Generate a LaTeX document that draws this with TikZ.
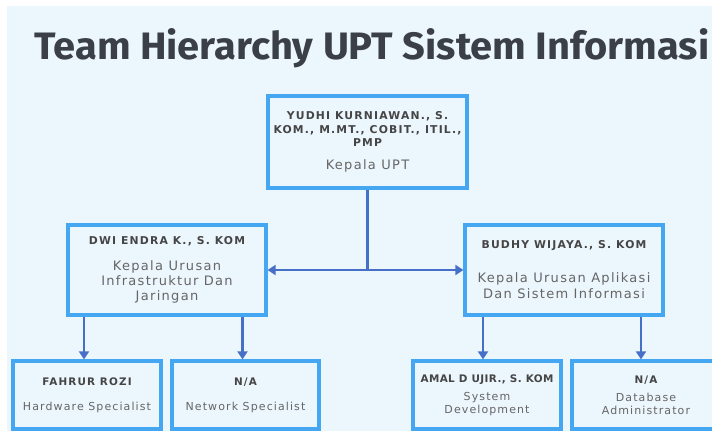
\documentclass[tikz,border=0pt]{standalone}
\usepackage{fontspec}
\usepackage{graphicx}
\usetikzlibrary{arrows.meta}
\newfontfamily\titlefont{Fira Sans}
\newfontfamily\namefont{DejaVu Sans}[LetterSpace=11]
\newfontfamily\namefontN{DejaVu Sans}[LetterSpace=4]
\newfontfamily\subfont{DejaVu Sans}[LetterSpace=10]
\definecolor{bg}{HTML}{ECF6FD}
\definecolor{boxline}{HTML}{45A6F2}
\definecolor{arrowc}{HTML}{4670C8}
\definecolor{titlec}{HTML}{3B3F48}
\definecolor{namec}{HTML}{454545}
\definecolor{subc}{HTML}{666666}
\newcommand\nmA{\namefont\bfseries\fontsize{10.8}{13}\selectfont\color{namec}}
\newcommand\nmB{\namefont\bfseries\fontsize{10.4}{13}\selectfont\color{namec}}
\newcommand\nmN{\namefontN\bfseries\fontsize{10.4}{13}\selectfont\color{namec}}
\newcommand\sbA{\subfont\fontsize{13}{15}\selectfont\color{subc}}
\newcommand\sbB{\subfont\fontsize{11}{13}\selectfont\color{subc}}
\begin{document}
\begin{tikzpicture}[x=1pt,y=-1pt,
  card/.style={draw=boxline, line width=3.2pt, fill=bg, align=center, inner sep=0pt},
  conn/.style={draw=arrowc, line width=2.8pt},
  arr/.style={conn, -{Triangle[length=8pt,width=10pt]}},
  biarr/.style={conn, {Triangle[length=8pt,width=10pt]}-{Triangle[length=8pt,width=10pt]}}]
\useasboundingbox (0,0) rectangle (712,431);
\fill[white] (0,0) rectangle (712,431);
\fill[bg] (7,6) rectangle (712,431);
\node[anchor=base west, text=titlec, inner sep=0pt] (title) at (34,59)
  {\resizebox{675pt}{31pt}{\titlefont\bfseries Team Hierarchy UPT Sistem Informasi}};
% boxes
\node[card, minimum width=199pt, minimum height=92pt, font=\fontsize{11}{13.5}\selectfont] (T) at (367.5,142)
  {\nmA YUDHI KURNIAWAN., S.\\ \nmA KOM., M.MT., COBIT., ITIL.,\\ \nmA PMP\\[9pt] \sbA Kepala UPT};
\node[card, minimum width=198pt, minimum height=90pt, font=\fontsize{11}{15}\selectfont] (L) at (167,270)
  {\nmA DWI ENDRA K., S. KOM\\[11pt] \sbA Kepala Urusan\\ \sbA Infrastruktur Dan\\ \sbA Jaringan};
\node[card, minimum width=198pt, minimum height=90pt, font=\fontsize{11}{16}\selectfont] (R) at (564,270)
  {\nmA BUDHY WIJAYA., S. KOM\\[18pt] \sbA Kepala Urusan Aplikasi\\ \sbA Dan Sistem Informasi};
\node[card, minimum width=148pt, minimum height=68pt, font=\fontsize{11}{13}\selectfont] (B1) at (87,395)
  {\nmB FAHRUR ROZI\\[12pt] \sbB Hardware Specialist};
\node[card, minimum width=147pt, minimum height=68pt, font=\fontsize{11}{13}\selectfont] (B2) at (245.5,395)
  {\nmB N/A\\[12pt] \sbB Network Specialist};
\node[card, minimum width=148pt, minimum height=68pt, font=\fontsize{11}{13}\selectfont] (B3) at (487,395)
  {\nmN AMAL D UJIR., S. KOM\\[5pt] \sbB System\\ \sbB Development};
\node[card, minimum width=148pt, minimum height=68pt, font=\fontsize{11}{13}\selectfont] (B4) at (646,395)
  {\nmB N/A\\[5pt] \sbB Database\\ \sbB Administrator};
% connectors
\coordinate (J) at (T.south |- L.east);
\draw[conn] (T.south) -- (J);
\draw[biarr] (L.east) -- (R.west);
\draw[arr] ([xshift=-3pt]L.south -| B1.north) -- ([xshift=-3pt]B1.north);
\draw[arr] ([xshift=-3pt]L.south -| B2.north) -- ([xshift=-3pt]B2.north);
\draw[arr] ([xshift=-4pt]R.south -| B3.north) -- ([xshift=-4pt]B3.north);
\draw[arr] ([xshift=-5pt]R.south -| B4.north) -- ([xshift=-5pt]B4.north);
\end{tikzpicture}
\end{document}
